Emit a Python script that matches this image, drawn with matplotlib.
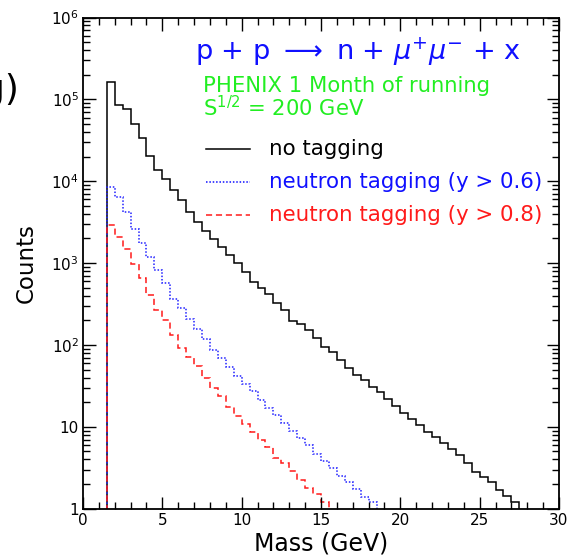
import numpy as np
import matplotlib
matplotlib.use("Agg")
import matplotlib.pyplot as plt
from matplotlib.ticker import FixedLocator, LogLocator, FuncFormatter, MultipleLocator

# ---- data (bin width 0.5 GeV, first bin starts at 1.5 GeV) ----
bin_width = 0.5
start_mass = 1.5

no_tagging = [164000, 86000, 75600, 50600, 33600, 20500, 13700, 10700, 7750, 5900,
              4200, 3200, 2480, 1980, 1580, 1260, 1000, 785, 580, 500,
              417, 330, 264, 198, 182, 154, 120, 93.5, 83, 66,
              53, 43, 37.5, 30.5, 26.5, 21.6, 17.8, 14.7, 12.6, 10.4,
              8.6, 7.5, 6.4, 5.3, 4.5, 3.6, 2.8, 2.45, 2.13, 1.69,
              1.44, 1.22]
tag_06 = [8430, 6430, 4220, 2580, 1770, 1190, 824, 568, 369, 284,
          210, 156, 118, 87.7, 69.5, 54.5, 42.3, 33.5, 27.3, 21.4,
          17.1, 14.1, 11.1, 8.9, 7.4, 5.96, 4.72, 3.8, 3.1, 2.5,
          2.13, 1.74, 1.4, 1.22]
tag_08 = [2900, 2095, 1470, 984, 653, 405, 267, 202, 133, 93,
          70.6, 55, 39.7, 30, 23.7, 17.4, 13.4, 10.9, 8.65, 7.0,
          5.7, 4.2, 3.63, 2.9, 2.23, 1.8, 1.5, 1.2]

series_labels = ["no tagging", "neutron tagging (y > 0.6)", "neutron tagging (y > 0.8)"]
x_ticks = [0, 5, 10, 15, 20, 25, 30]
y_ticks = [1, 10, 100, 1e3, 1e4, 1e5, 1e6]

plt.rcParams['font.family'] = ['DejaVu Sans']
plt.rcParams['mathtext.fontset'] = 'dejavusans'

fig = plt.figure(figsize=(5.73, 5.60), dpi=100)
ax = fig.add_axes([83/573, 1-508.7/560, (559-83)/573, (508.7-17.5)/560])

def edges_for(vals):
    return start_mass + bin_width*np.arange(len(vals)+1)

ax.stairs(no_tagging, edges_for(no_tagging), baseline=0.1, color='black', lw=1.1)
ax.stairs(tag_06, edges_for(tag_06), baseline=0.1, color='#2020ff', lw=1.1,
          linestyle=(0, (1, 1.2)))
ax.stairs(tag_08, edges_for(tag_08), baseline=0.1, color='#ff1a1a', lw=1.1,
          linestyle=(0, (4, 2.5)))

ax.set_yscale('log')
ax.set_xlim(0, 30)
ax.set_ylim(1, 1e6)

ax.xaxis.set_major_locator(FixedLocator(x_ticks))
ax.xaxis.set_minor_locator(MultipleLocator(1))
ax.yaxis.set_major_locator(FixedLocator(y_ticks))
ax.yaxis.set_minor_locator(LogLocator(base=10, subs=np.arange(2, 10), numticks=20))

def yfmt(v, pos):
    if v == 1:
        return "1"
    if v == 10:
        return "10"
    return r"$\mathregular{10^{%d}}$" % int(round(np.log10(v)))
ax.yaxis.set_major_formatter(FuncFormatter(yfmt))
ax.yaxis.set_minor_formatter(FuncFormatter(lambda v, p: ""))

ax.tick_params(which='both', direction='in', top=True, right=True, width=1.0,
               labelsize=11, pad=3)
ax.tick_params(which='major', length=9)
ax.tick_params(which='minor', length=5)
for s in ax.spines.values():
    s.set_linewidth(1.3)

ax.set_xlabel("Mass (GeV)", fontsize=17)
ax.xaxis.set_label_coords(0.5, -(531-508.7)/491.2)
ax.set_ylabel("Counts", fontsize=16.5)
ax.yaxis.set_label_coords(-(83-38)/476, 0.5)

# annotations (figure pixel coordinates converted to fractions)
def fx(px):
    return px/573
def fy(py):
    return 1 - py/560

fig.text(fx(195), fy(60), r"p + p $\longrightarrow$ n + $\mu^{+}\mu^{-}$ + x",
         color='#1010ff', fontsize=19.5, ha='left', va='baseline')
fig.text(fx(203), fy(92), "PHENIX 1 Month of running", color='#22ee22',
         fontsize=15.2, ha='left', va='baseline')
fig.text(fx(203), fy(116), r"S$^{1/2}$ = 200 GeV", color='#22ee22',
         fontsize=15.2, ha='left', va='baseline')

legend_y = [149, 182, 215]
legend_cols = ['black', '#1010ff', '#ff1a1a']
legend_styles = ['-', (0, (1, 1.2)), (0, (4, 2.5))]
for ly, lc, ls, lab in zip(legend_y, legend_cols, legend_styles, series_labels):
    fig.add_artist(plt.Line2D([fx(206), fx(250)], [fy(ly), fy(ly)], color=lc,
                              lw=1.1, linestyle=ls, transform=fig.transFigure))
    fig.text(fx(269), fy(ly), lab, color=lc, fontsize=15.4, ha='left', va='center')

fig.text(fx(19), fy(90), "g)", color='black', fontsize=26, ha='right', va='center')

fig.savefig("out.png", dpi=100)
